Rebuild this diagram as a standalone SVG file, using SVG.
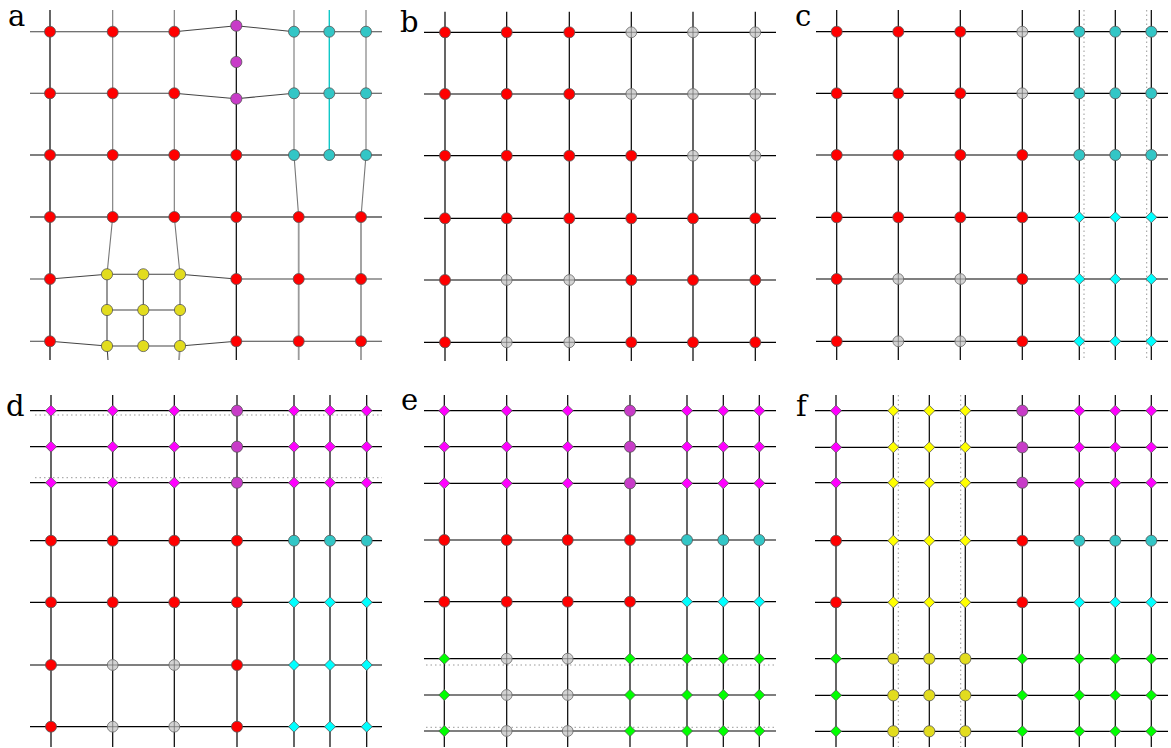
<svg xmlns="http://www.w3.org/2000/svg" width="1171" height="748" viewBox="0 0 1171 748">
<style>
.k{stroke:#000;stroke-width:1.2;fill:none}
.d{stroke:#444;stroke-width:1.1;fill:none}
.g{stroke:#777;stroke-width:1.1;fill:none}
.lg{stroke:#9a9a9a;stroke-width:1.8;fill:none}
.cy{stroke:#10c8c8;stroke-width:1.4;fill:none}
.dot{stroke:#999;stroke-width:1;stroke-dasharray:1.5 3;fill:none}
.lbl{font-family:"DejaVu Serif","Liberation Serif",serif;font-size:29px;fill:#000}
</style>
<defs>
<g id="R"><circle r="5.5" fill="#ff0000" stroke="#555" stroke-width="0.8"/></g>
<g id="P"><circle r="5.6" fill="#c83cc8" stroke="#555" stroke-width="0.8"/></g>
<g id="T"><circle r="5.5" fill="#33c6c6" stroke="#555" stroke-width="0.8"/></g>
<g id="Y"><circle r="5.6" fill="#e2dc1e" stroke="#555" stroke-width="0.8"/></g>
<g id="G"><circle r="5.4" fill="#d3d3d3" stroke="#666" stroke-width="0.8"/><path d="M-5.4,0H5.4M0,-5.4V5.4" stroke="#666" stroke-width="0.7"/></g>
<g id="MD"><path d="M0,-5.5L5.5,0L0,5.5L-5.5,0Z" fill="#ff00ff" stroke="#555" stroke-width="0.8"/></g>
<g id="CD"><path d="M0,-5.5L5.5,0L0,5.5L-5.5,0Z" fill="#00ffff" stroke="#555" stroke-width="0.8"/></g>
<g id="GD"><path d="M0,-5.5L5.5,0L0,5.5L-5.5,0Z" fill="#00ff00" stroke="#555" stroke-width="0.8"/></g>
<g id="YD"><path d="M0,-5.5L5.5,0L0,5.5L-5.5,0Z" fill="#ffff00" stroke="#555" stroke-width="0.8"/></g>
</defs>
<rect width="1171" height="748" fill="#fff"/>

<g id="labels">
<text class="lbl" x="8" y="26">a</text>
<text class="lbl" x="400" y="32">b</text>
<text class="lbl" x="795" y="26">c</text>
<text class="lbl" x="6" y="416">d</text>
<text class="lbl" x="401" y="410">e</text>
<text class="lbl" x="796" y="416">f</text>
</g>

<!-- PANEL A -->
<g id="connectors-a">
<path class="k" d="M50,10V360M236.3,10V360M30,155H382M30,217H382"/>
<path class="g" d="M112.7,10V217L107,274.3M174.3,10V217L180,274.3M294,10V155L298.7,217M366,10V155L361,217"/>
<path class="cy" d="M329.3,10V155"/>
<path class="d" d="M30,31.7H174.3L236.3,25.7L294,31.7H382M30,93.3H174.3L236.3,98.7L294,93.3H382"/>
<path class="d" d="M30,279H50L107,274.3H180L236.3,279H382M30,341.3H50L107,346H180L236.3,341.3H382"/>
<path class="d" d="M107,274.3V346L108,360M143.3,274.3V346M107,310H180"/>
<path class="lg" d="M180,274.3V346L179,360M298.7,217V360M361,217V360"/>
</g>
<g id="nodes-a">
<use href="#R" x="50" y="31.7"/><use href="#R" x="112.7" y="31.7"/><use href="#R" x="174.3" y="31.7"/>
<use href="#P" x="236.3" y="25.7"/><use href="#P" x="236.3" y="62"/><use href="#P" x="236.3" y="98.7"/>
<use href="#T" x="294" y="31.7"/><use href="#T" x="329.3" y="31.7"/><use href="#T" x="366" y="31.7"/>
<use href="#R" x="50" y="93.3"/><use href="#R" x="112.7" y="93.3"/><use href="#R" x="174.3" y="93.3"/>
<use href="#T" x="294" y="93.3"/><use href="#T" x="329.3" y="93.3"/><use href="#T" x="366" y="93.3"/>
<use href="#R" x="50" y="155"/><use href="#R" x="112.7" y="155"/><use href="#R" x="174.3" y="155"/><use href="#R" x="236.3" y="155"/>
<use href="#T" x="294" y="155"/><use href="#T" x="329.3" y="155"/><use href="#T" x="366" y="155"/>
<use href="#R" x="50" y="217"/><use href="#R" x="112.7" y="217"/><use href="#R" x="174.3" y="217"/><use href="#R" x="236.3" y="217"/><use href="#R" x="298.7" y="217"/><use href="#R" x="361" y="217"/>
<use href="#R" x="50" y="279"/><use href="#Y" x="107" y="274.3"/><use href="#Y" x="143.3" y="274.3"/><use href="#Y" x="180" y="274.3"/><use href="#R" x="236.3" y="279"/><use href="#R" x="298.7" y="279"/><use href="#R" x="361" y="279"/>
<use href="#Y" x="107" y="310"/><use href="#Y" x="143.3" y="310"/><use href="#Y" x="180" y="310"/>
<use href="#R" x="50" y="341.3"/><use href="#Y" x="107" y="346"/><use href="#Y" x="143.3" y="346"/><use href="#Y" x="180" y="346"/><use href="#R" x="236.3" y="341.3"/><use href="#R" x="298.7" y="341.3"/><use href="#R" x="361" y="341.3"/>
</g>

<!-- PANEL B -->
<g id="connectors-b">
<path class="k" d="M424,32.3H776M424,94H776M424,155.7H776M424,218.3H776M424,280H776M424,342.3H776"/>
<path class="k" d="M445,11.7V361M506.7,11.7V361M569.3,11.7V361M631.3,11.7V361M693,11.7V361M755.3,11.7V361"/>
</g>
<g id="nodes-b">
<use href="#R" x="445" y="32.3"/><use href="#R" x="506.7" y="32.3"/><use href="#R" x="569.3" y="32.3"/><use href="#G" x="631.3" y="32.3"/><use href="#G" x="693" y="32.3"/><use href="#G" x="755.3" y="32.3"/>
<use href="#R" x="445" y="94"/><use href="#R" x="506.7" y="94"/><use href="#R" x="569.3" y="94"/><use href="#G" x="631.3" y="94"/><use href="#G" x="693" y="94"/><use href="#G" x="755.3" y="94"/>
<use href="#R" x="445" y="155.7"/><use href="#R" x="506.7" y="155.7"/><use href="#R" x="569.3" y="155.7"/><use href="#R" x="631.3" y="155.7"/><use href="#G" x="693" y="155.7"/><use href="#G" x="755.3" y="155.7"/>
<use href="#R" x="445" y="218.3"/><use href="#R" x="506.7" y="218.3"/><use href="#R" x="569.3" y="218.3"/><use href="#R" x="631.3" y="218.3"/><use href="#R" x="693" y="218.3"/><use href="#R" x="755.3" y="218.3"/>
<use href="#R" x="445" y="280"/><use href="#G" x="506.7" y="280"/><use href="#G" x="569.3" y="280"/><use href="#R" x="631.3" y="280"/><use href="#R" x="693" y="280"/><use href="#R" x="755.3" y="280"/>
<use href="#R" x="445" y="342.3"/><use href="#G" x="506.7" y="342.3"/><use href="#G" x="569.3" y="342.3"/><use href="#R" x="631.3" y="342.3"/><use href="#R" x="693" y="342.3"/><use href="#R" x="755.3" y="342.3"/>
</g>

<!-- PANEL C -->
<g id="connectors-c">
<path class="dot" d="M1084,10V360M1146.7,10V360"/>
<path class="k" d="M816,31.7H1168M816,93.3H1168M816,155H1168M816,217.3H1168M816,279H1168M816,341.3H1168"/>
<path class="k" d="M836.7,10V360M898.3,10V360M960.3,10V360M1022.3,10V360M1079.3,10V360M1115.3,10V360M1151.3,10V360"/>
</g>
<g id="nodes-c">
<use href="#R" x="836.7" y="31.7"/><use href="#R" x="898.3" y="31.7"/><use href="#R" x="960.3" y="31.7"/><use href="#G" x="1022.3" y="31.7"/><use href="#T" x="1079.3" y="31.7"/><use href="#T" x="1115.3" y="31.7"/><use href="#T" x="1151.3" y="31.7"/>
<use href="#R" x="836.7" y="93.3"/><use href="#R" x="898.3" y="93.3"/><use href="#R" x="960.3" y="93.3"/><use href="#G" x="1022.3" y="93.3"/><use href="#T" x="1079.3" y="93.3"/><use href="#T" x="1115.3" y="93.3"/><use href="#T" x="1151.3" y="93.3"/>
<use href="#R" x="836.7" y="155"/><use href="#R" x="898.3" y="155"/><use href="#R" x="960.3" y="155"/><use href="#R" x="1022.3" y="155"/><use href="#T" x="1079.3" y="155"/><use href="#T" x="1115.3" y="155"/><use href="#T" x="1151.3" y="155"/>
<use href="#R" x="836.7" y="217.3"/><use href="#R" x="898.3" y="217.3"/><use href="#R" x="960.3" y="217.3"/><use href="#R" x="1022.3" y="217.3"/><use href="#CD" x="1079.3" y="217.3"/><use href="#CD" x="1115.3" y="217.3"/><use href="#CD" x="1151.3" y="217.3"/>
<use href="#R" x="836.7" y="279"/><use href="#G" x="898.3" y="279"/><use href="#G" x="960.3" y="279"/><use href="#R" x="1022.3" y="279"/><use href="#CD" x="1079.3" y="279"/><use href="#CD" x="1115.3" y="279"/><use href="#CD" x="1151.3" y="279"/>
<use href="#R" x="836.7" y="341.3"/><use href="#G" x="898.3" y="341.3"/><use href="#G" x="960.3" y="341.3"/><use href="#R" x="1022.3" y="341.3"/><use href="#CD" x="1079.3" y="341.3"/><use href="#CD" x="1115.3" y="341.3"/><use href="#CD" x="1151.3" y="341.3"/>
</g>

<!-- PANEL D -->
<g id="connectors-d">
<path class="dot" d="M35,415H382M35,477.7H382"/>
<path class="k" d="M30,410.7H382M30,446.7H382M30,482.7H382M30,540.7H382M30,602.3H382M30,665H382M30,726.7H382"/>
<path class="k" d="M51,395V747M112.7,395V747M174.3,395V747M237,395V747M294,395V747M330,395V747M366.7,395V747"/>
</g>
<g id="nodes-d">
<use href="#MD" x="51" y="410.7"/><use href="#MD" x="112.7" y="410.7"/><use href="#MD" x="174.3" y="410.7"/><use href="#P" x="237" y="410.7"/><use href="#MD" x="294" y="410.7"/><use href="#MD" x="330" y="410.7"/><use href="#MD" x="366.7" y="410.7"/>
<use href="#MD" x="51" y="446.7"/><use href="#MD" x="112.7" y="446.7"/><use href="#MD" x="174.3" y="446.7"/><use href="#P" x="237" y="446.7"/><use href="#MD" x="294" y="446.7"/><use href="#MD" x="330" y="446.7"/><use href="#MD" x="366.7" y="446.7"/>
<use href="#MD" x="51" y="482.7"/><use href="#MD" x="112.7" y="482.7"/><use href="#MD" x="174.3" y="482.7"/><use href="#P" x="237" y="482.7"/><use href="#MD" x="294" y="482.7"/><use href="#MD" x="330" y="482.7"/><use href="#MD" x="366.7" y="482.7"/>
<use href="#R" x="51" y="540.7"/><use href="#R" x="112.7" y="540.7"/><use href="#R" x="174.3" y="540.7"/><use href="#R" x="237" y="540.7"/><use href="#T" x="294" y="540.7"/><use href="#T" x="330" y="540.7"/><use href="#T" x="366.7" y="540.7"/>
<use href="#R" x="51" y="602.3"/><use href="#R" x="112.7" y="602.3"/><use href="#R" x="174.3" y="602.3"/><use href="#R" x="237" y="602.3"/><use href="#CD" x="294" y="602.3"/><use href="#CD" x="330" y="602.3"/><use href="#CD" x="366.7" y="602.3"/>
<use href="#R" x="51" y="665"/><use href="#G" x="112.7" y="665"/><use href="#G" x="174.3" y="665"/><use href="#R" x="237" y="665"/><use href="#CD" x="294" y="665"/><use href="#CD" x="330" y="665"/><use href="#CD" x="366.7" y="665"/>
<use href="#R" x="51" y="726.7"/><use href="#G" x="112.7" y="726.7"/><use href="#G" x="174.3" y="726.7"/><use href="#R" x="237" y="726.7"/><use href="#CD" x="294" y="726.7"/><use href="#CD" x="330" y="726.7"/><use href="#CD" x="366.7" y="726.7"/>
</g>

<!-- PANEL E -->
<g id="connectors-e">
<path class="dot" d="M426,665H776M426,727.3H776"/>
<path class="k" d="M424,410.7H776M424,446.7H776M424,483.3H776M424,540H776M424,601.7H776M424,658.7H776M424,695H776M424,731H776"/>
<path class="k" d="M444.3,395V747M506.7,395V747M567.7,395V747M630,395V747M687,395V747M723.3,395V747M759.3,395V747"/>
</g>
<g id="nodes-e">
<use href="#MD" x="444.3" y="410.7"/><use href="#MD" x="506.7" y="410.7"/><use href="#MD" x="567.7" y="410.7"/><use href="#P" x="630" y="410.7"/><use href="#MD" x="687" y="410.7"/><use href="#MD" x="723.3" y="410.7"/><use href="#MD" x="759.3" y="410.7"/>
<use href="#MD" x="444.3" y="446.7"/><use href="#MD" x="506.7" y="446.7"/><use href="#MD" x="567.7" y="446.7"/><use href="#P" x="630" y="446.7"/><use href="#MD" x="687" y="446.7"/><use href="#MD" x="723.3" y="446.7"/><use href="#MD" x="759.3" y="446.7"/>
<use href="#MD" x="444.3" y="483.3"/><use href="#MD" x="506.7" y="483.3"/><use href="#MD" x="567.7" y="483.3"/><use href="#P" x="630" y="483.3"/><use href="#MD" x="687" y="483.3"/><use href="#MD" x="723.3" y="483.3"/><use href="#MD" x="759.3" y="483.3"/>
<use href="#R" x="444.3" y="540"/><use href="#R" x="506.7" y="540"/><use href="#R" x="567.7" y="540"/><use href="#R" x="630" y="540"/><use href="#T" x="687" y="540"/><use href="#T" x="723.3" y="540"/><use href="#T" x="759.3" y="540"/>
<use href="#R" x="444.3" y="601.7"/><use href="#R" x="506.7" y="601.7"/><use href="#R" x="567.7" y="601.7"/><use href="#R" x="630" y="601.7"/><use href="#CD" x="687" y="601.7"/><use href="#CD" x="723.3" y="601.7"/><use href="#CD" x="759.3" y="601.7"/>
<use href="#GD" x="444.3" y="658.7"/><use href="#G" x="506.7" y="658.7"/><use href="#G" x="567.7" y="658.7"/><use href="#GD" x="630" y="658.7"/><use href="#GD" x="687" y="658.7"/><use href="#GD" x="723.3" y="658.7"/><use href="#GD" x="759.3" y="658.7"/>
<use href="#GD" x="444.3" y="695"/><use href="#G" x="506.7" y="695"/><use href="#G" x="567.7" y="695"/><use href="#GD" x="630" y="695"/><use href="#GD" x="687" y="695"/><use href="#GD" x="723.3" y="695"/><use href="#GD" x="759.3" y="695"/>
<use href="#GD" x="444.3" y="731"/><use href="#G" x="506.7" y="731"/><use href="#G" x="567.7" y="731"/><use href="#GD" x="630" y="731"/><use href="#GD" x="687" y="731"/><use href="#GD" x="723.3" y="731"/><use href="#GD" x="759.3" y="731"/>
</g>

<!-- PANEL F -->
<g id="connectors-f">
<path class="dot" d="M898.3,395V747M960.7,395V747"/>
<path class="k" d="M815,410.7H1168M815,447.3H1168M815,482.7H1168M815,540.7H1168M815,602.3H1168M815,658.7H1168M815,695.3H1168M815,731.3H1168"/>
<path class="k" d="M836,395V747M893.3,395V747M929.3,395V747M965.3,395V747M1022.3,395V747M1079.3,395V747M1115.3,395V747M1151.3,395V747"/>
</g>
<g id="nodes-f">
<use href="#MD" x="836" y="410.7"/><use href="#YD" x="893.3" y="410.7"/><use href="#YD" x="929.3" y="410.7"/><use href="#YD" x="965.3" y="410.7"/><use href="#P" x="1022.3" y="410.7"/><use href="#MD" x="1079.3" y="410.7"/><use href="#MD" x="1115.3" y="410.7"/><use href="#MD" x="1151.3" y="410.7"/>
<use href="#MD" x="836" y="447.3"/><use href="#YD" x="893.3" y="447.3"/><use href="#YD" x="929.3" y="447.3"/><use href="#YD" x="965.3" y="447.3"/><use href="#P" x="1022.3" y="447.3"/><use href="#MD" x="1079.3" y="447.3"/><use href="#MD" x="1115.3" y="447.3"/><use href="#MD" x="1151.3" y="447.3"/>
<use href="#MD" x="836" y="482.7"/><use href="#YD" x="893.3" y="482.7"/><use href="#YD" x="929.3" y="482.7"/><use href="#YD" x="965.3" y="482.7"/><use href="#P" x="1022.3" y="482.7"/><use href="#MD" x="1079.3" y="482.7"/><use href="#MD" x="1115.3" y="482.7"/><use href="#MD" x="1151.3" y="482.7"/>
<use href="#R" x="836" y="540.7"/><use href="#YD" x="893.3" y="540.7"/><use href="#YD" x="929.3" y="540.7"/><use href="#YD" x="965.3" y="540.7"/><use href="#R" x="1022.3" y="540.7"/><use href="#T" x="1079.3" y="540.7"/><use href="#T" x="1115.3" y="540.7"/><use href="#T" x="1151.3" y="540.7"/>
<use href="#R" x="836" y="602.3"/><use href="#YD" x="893.3" y="602.3"/><use href="#YD" x="929.3" y="602.3"/><use href="#YD" x="965.3" y="602.3"/><use href="#R" x="1022.3" y="602.3"/><use href="#CD" x="1079.3" y="602.3"/><use href="#CD" x="1115.3" y="602.3"/><use href="#CD" x="1151.3" y="602.3"/>
<use href="#GD" x="836" y="658.7"/><use href="#Y" x="893.3" y="658.7"/><use href="#Y" x="929.3" y="658.7"/><use href="#Y" x="965.3" y="658.7"/><use href="#GD" x="1022.3" y="658.7"/><use href="#GD" x="1079.3" y="658.7"/><use href="#GD" x="1115.3" y="658.7"/><use href="#GD" x="1151.3" y="658.7"/>
<use href="#GD" x="836" y="695.3"/><use href="#Y" x="893.3" y="695.3"/><use href="#Y" x="929.3" y="695.3"/><use href="#Y" x="965.3" y="695.3"/><use href="#GD" x="1022.3" y="695.3"/><use href="#GD" x="1079.3" y="695.3"/><use href="#GD" x="1115.3" y="695.3"/><use href="#GD" x="1151.3" y="695.3"/>
<use href="#GD" x="836" y="731.3"/><use href="#Y" x="893.3" y="731.3"/><use href="#Y" x="929.3" y="731.3"/><use href="#Y" x="965.3" y="731.3"/><use href="#GD" x="1022.3" y="731.3"/><use href="#GD" x="1079.3" y="731.3"/><use href="#GD" x="1115.3" y="731.3"/><use href="#GD" x="1151.3" y="731.3"/>
</g>
</svg>
